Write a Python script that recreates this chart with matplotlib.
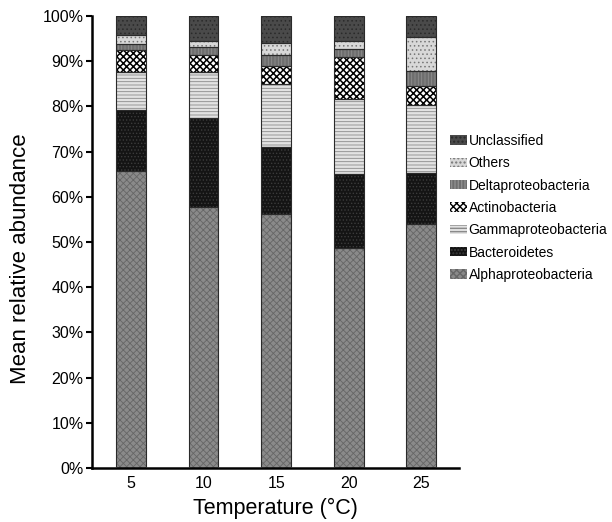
import numpy as np
import matplotlib.pyplot as plt

plt.rcParams['font.family'] = ['Liberation Sans', 'DejaVu Sans']

# data (% of reads)
temps = ['5', '10', '15', '20', '25']
alpha = [65.6, 57.7, 56.2, 48.6, 54.0]
bacteroidetes = [13.6, 19.7, 14.9, 16.4, 11.2]
gamma = [8.5, 10.1, 13.8, 16.6, 15.1]
actino = [4.8, 3.9, 4.1, 9.3, 4.2]
delta = [1.3, 1.7, 2.4, 1.9, 3.3]
others = [2.0, 1.4, 2.6, 1.6, 7.5]
unclassified = [4.2, 5.5, 6.0, 5.6, 4.7]

groups = ['Alphaproteobacteria', 'Bacteroidetes', 'Gammaproteobacteria',
          'Actinobacteria', 'Deltaproteobacteria', 'Others', 'Unclassified']
values = [alpha, bacteroidetes, gamma, actino, delta, others, unclassified]
# face colour, hatch colour, hatch, hatch line width
styles = [('#8a8a8a', '#666666', 'xxxxx', 0.6),
          ('#141414', '#3c3c3c', '.....', 0.6),
          ('#e2e2e2', '#8a8a8a', '-----', 0.6),
          ('#ffffff', '#000000', 'xxxxx', 1.1),
          ('#6e6e6e', '#8e8e8e', '|||||', 0.6),
          ('#d8d8d8', '#777777', '....', 0.6),
          ('#4a4a4a', '#2a2a2a', '....', 0.6)]

fig = plt.figure(figsize=(6.12, 5.22), dpi=100)
ax = fig.add_axes([0.150, 0.1034, 0.60, 0.866])

x = np.arange(len(temps))
w = 0.41
bottom = np.zeros(len(temps))
handles = []
for name, vals, (fc, hc, hatch, hlw) in zip(groups, values, styles):
    vals = np.array(vals)
    with plt.rc_context({'hatch.linewidth': hlw}):
        b = ax.bar(x, vals, w, bottom=bottom, facecolor=fc, edgecolor=hc,
                   hatch=hatch, linewidth=0, label=name, zorder=2)
    ax.bar(x, vals, w, bottom=bottom, fill=False, edgecolor='#2a2a2a',
           linewidth=0.8, zorder=3)
    handles.append(b)
    bottom += vals

ax.set_xlim(-0.54, 4.52)
ax.set_ylim(0, 100)
ax.set_xticks(x)
ax.set_xticklabels(temps)
ax.set_yticks(np.arange(0, 101, 10))
ax.set_yticklabels(['%d%%' % v for v in range(0, 101, 10)])
ax.tick_params(axis='y', direction='out', length=4, width=1.5, labelsize=11.5, pad=2)
ax.tick_params(axis='x', length=0, labelsize=11.5, pad=6)
for s in ['top', 'right']:
    ax.spines[s].set_visible(False)
for s in ['left', 'bottom']:
    ax.spines[s].set_linewidth(1.8)
ax.set_ylabel('Mean relative abundance', fontsize=16)
ax.yaxis.set_label_coords(-0.165, 0.462)
ax.set_xlabel('Temperature (°C)', fontsize=15.5, labelpad=5)

fig.legend(handles[::-1], groups[::-1], loc='upper left',
           bbox_to_anchor=(0.727, 0.754), frameon=False, fontsize=10,
           handlelength=1.2, handleheight=0.65, handletextpad=0.1,
           labelspacing=0.6, borderaxespad=0)

fig.savefig('out.png', dpi=100)
